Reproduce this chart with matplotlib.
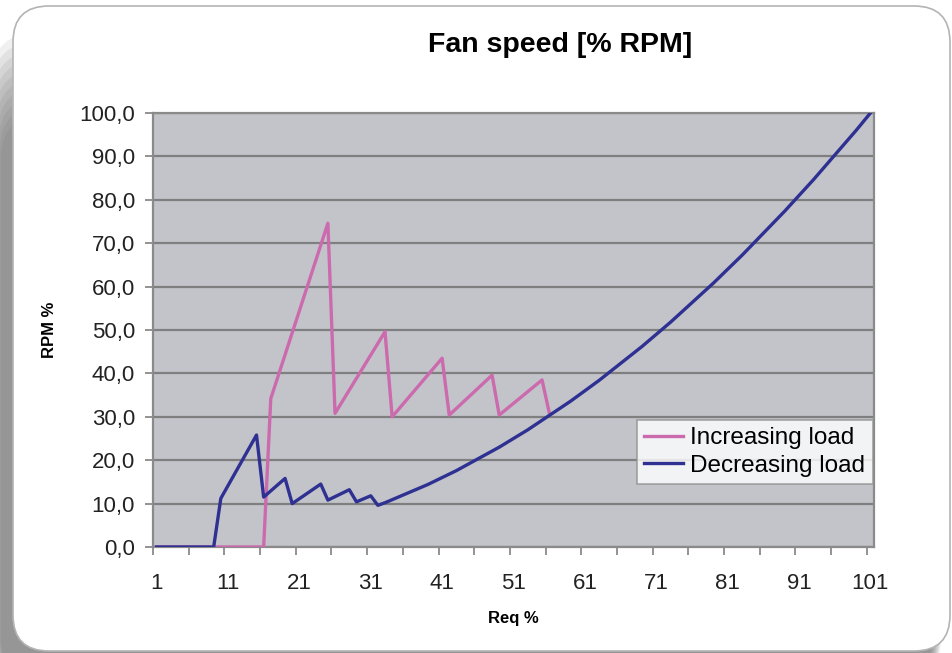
import matplotlib
matplotlib.use("Agg")
import matplotlib.pyplot as plt
import numpy as np
from matplotlib.patches import FancyBboxPatch
from matplotlib.transforms import IdentityTransform

# increasing load: vertices of the sawtooth (req %, rpm %)
inc_x = [1, 16, 17, 25, 26, 33, 34, 41, 42, 48, 49, 55, 56]
inc_y = [0.0, 0.0, 34.2, 74.6, 30.8, 49.6, 30.0, 43.5, 30.4, 39.6, 30.4, 38.5, 31.0]

# decreasing load: first the jagged start, then one value per step up to 101
dec_x_start = [1, 9, 10, 15, 16, 19, 20, 24, 25, 28, 29, 31]
dec_y_start = [0.0, 0.0, 11.2, 25.8, 11.5, 15.8, 10.0, 14.5, 10.8, 13.2, 10.4, 11.8]
dec_x_curve = list(range(32, 102))
dec_y_curve = [9.6, 10.2, 10.9, 11.6, 12.3, 13.0, 13.7, 14.4, 15.2, 16.0,
               16.8, 17.6, 18.5, 19.4, 20.3, 21.2, 22.1, 23.0, 24.0, 25.0,
               26.0, 27.0, 28.1, 29.2, 30.3, 31.4, 32.5, 33.6, 34.8, 36.0,
               37.2, 38.4, 39.7, 41.0, 42.3, 43.6, 44.9, 46.2, 47.6, 49.0,
               50.4, 51.8, 53.3, 54.8, 56.3, 57.8, 59.3, 60.8, 62.4, 64.0,
               65.6, 67.2, 68.9, 70.6, 72.3, 74.0, 75.7, 77.4, 79.2, 81.0,
               82.8, 84.6, 86.5, 88.4, 90.3, 92.2, 94.1, 96.0, 98.0, 100.0]

x_labels = [1, 11, 21, 31, 41, 51, 61, 71, 81, 91, 101]
y_ticks = [0, 10, 20, 30, 40, 50, 60, 70, 80, 90, 100]
y_labels = ['0,0', '10,0', '20,0', '30,0', '40,0', '50,0',
            '60,0', '70,0', '80,0', '90,0', '100,0']

plt.rcParams['font.family'] = ['Liberation Sans', 'DejaVu Sans']

fig = plt.figure(figsize=(9.53, 6.53), dpi=100)
fig.patch.set_facecolor('white')

# soft shadow on the left / bottom, then the rounded white card
for i in range(10):
    sh = FancyBboxPatch((-8 + i, -30), 940, 650 - i * 9,
                        boxstyle="round,pad=0,rounding_size=45",
                        transform=IdentityTransform(), facecolor='#5a5a5a',
                        edgecolor='none', alpha=0.09, zorder=0)
    fig.patches.append(sh)
card = FancyBboxPatch((13, 2), 937, 645, boxstyle="round,pad=0,rounding_size=36",
                      transform=IdentityTransform(), facecolor='white',
                      edgecolor='#b4b4b4', linewidth=1.2, zorder=1)
fig.patches.append(card)

ax = fig.add_axes([153 / 953, 1 - 547 / 653, (874 - 153) / 953, (547 - 113) / 653])
ax.set_facecolor('#c3c4ca')
ax.set_zorder(2)

ax.plot(inc_x, inc_y, color='#cc6aae', linewidth=2.4, label='Increasing load', zorder=3)
ax.plot(dec_x_start + dec_x_curve, dec_y_start + dec_y_curve, color='#2e3192',
        linewidth=2.4, label='Decreasing load', zorder=4)

ax.set_xlim(0.5, 101.5)
ax.set_ylim(0, 100)

ax.set_yticks(y_ticks)
ax.set_yticklabels(y_labels)
ax.set_xticks(x_labels)
ax.set_xticklabels([str(v) for v in x_labels])
ax.set_xticks(np.arange(0.5, 102, 5), minor=True)
ax.tick_params(axis='x', which='major', length=0, pad=19, labelsize=16, colors='#222222')
ax.tick_params(axis='x', which='minor', length=6, width=1.2, color='#808080')
ax.tick_params(axis='y', length=6, width=1.2, color='#808080', pad=7,
               labelsize=16, labelcolor='#222222')

ax.yaxis.grid(True, color='#7f7f7f', linewidth=1.6)
ax.set_axisbelow(True)
for s in ax.spines.values():
    s.set_color('#8a8a8a')
    s.set_linewidth(1.6)

fig.text(560 / 953, 1 - 45 / 653, 'Fan speed [% RPM]', fontsize=20.5,
         fontweight='bold', ha='center', va='center')
ax.set_xlabel('Req %', fontsize=12, fontweight='bold', labelpad=12)
ax.set_ylabel('RPM %', fontsize=12, fontweight='bold', labelpad=16)

leg = ax.legend(loc='upper left', bbox_to_anchor=(0.671, 0.293), fontsize=17.5,
                frameon=True, fancybox=False, borderpad=0.3, labelspacing=0.22,
                handlelength=1.6, handletextpad=0.3, borderaxespad=0)
leg.get_frame().set_edgecolor('#909090')
leg.get_frame().set_linewidth(1.2)

fig.savefig('out.png', dpi=100, facecolor=fig.get_facecolor())
